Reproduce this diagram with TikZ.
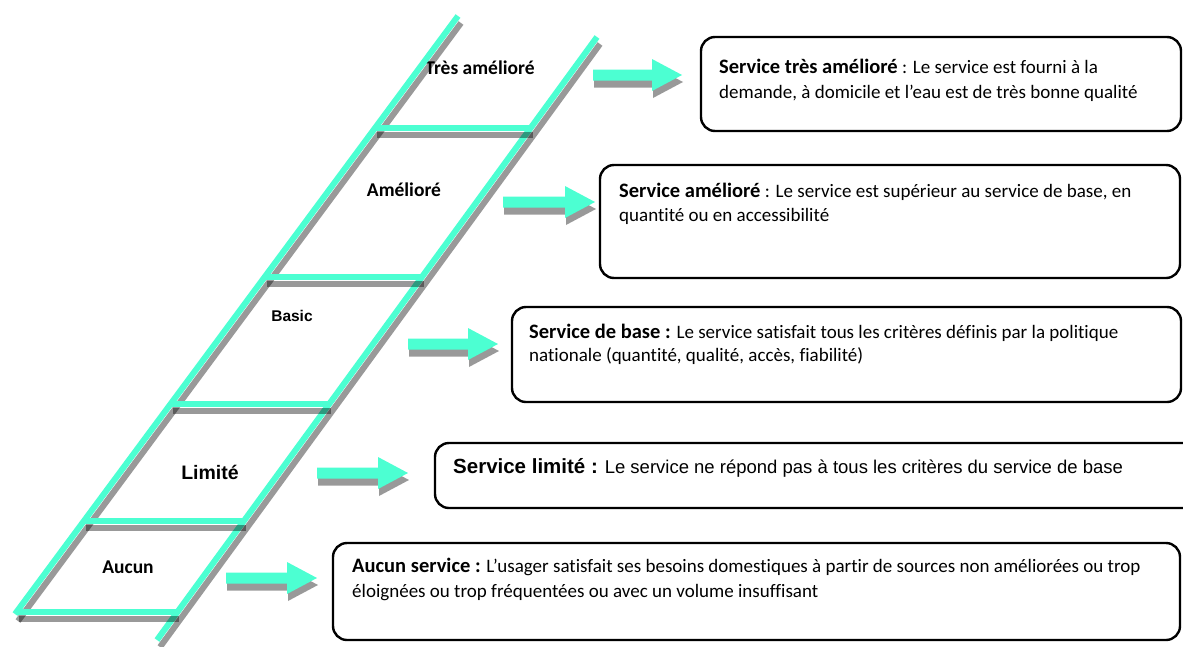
\documentclass[tikz,border=0pt]{standalone}
\usepackage{fontspec}
\setmainfont{Carlito}[Ligatures=NoCommon]
\newfontfamily\arialf{Liberation Sans}
\definecolor{turq}{RGB}{76,255,210}
\tikzset{
  railg/.style={line width=6pt, turq},
  rails/.style={line width=6pt, black, opacity=0.4},
  arrg/.style={fill=turq},
  arrs/.style={fill=black, opacity=0.4},
  svcbox/.style={draw=black, line width=2.4pt, rounded corners=14pt},
  ltxt/.style={anchor=base west, inner sep=0pt, font=\fontsize{19}{22}\selectfont},
  atxt/.style={anchor=base west, inner sep=0pt, font=\arialf\fontsize{18.5}{22}\selectfont},
  rung/.style={inner sep=0pt, font=\bfseries\fontsize{19.5}{22}\selectfont},
}
\newcommand\ttl[1]{{\fontsize{20.5}{22}\selectfont\bfseries #1}}
\newcommand\blkarrow[3]{%
  \fill[arrs, shift={(1,7)}] (#1,#3-5.5) -- (#2-30,#3-5.5) -- (#2-30,#3-16) -- (#2,#3) -- (#2-30,#3+16) -- (#2-30,#3+5.5) -- (#1,#3+5.5) -- cycle;
  \fill[arrg] (#1,#3-5.5) -- (#2-30,#3-5.5) -- (#2-30,#3-16) -- (#2,#3) -- (#2-30,#3+16) -- (#2-30,#3+5.5) -- (#1,#3+5.5) -- cycle;
}
\begin{document}
\begin{tikzpicture}[x=1pt,y=-1pt]
\useasboundingbox[fill=white] (0,0) rectangle (1183,646);
\clip (0,0) rectangle (1183,646);

% ladder labels
\node[rung] (lt1) at (480,68) {Très amélioré};
\node[rung] (lt2) at (404,190) {Amélioré};
\node[rung, font=\arialf\bfseries\fontsize{15.5}{18}\selectfont] (lt3) at (292,316) {Basic};
\node[rung, font=\arialf\bfseries\fontsize{19.5}{22}\selectfont] (lt4) at (210,472) {Limité};
\node[rung] (lt5) at (128,567) {Aucun};

% rails
\coordinate (LT) at (458,16);
\coordinate (LB) at (15,614);
\coordinate (RT) at (597,37);
\coordinate (RB) at (157,640);
\draw[rails] ([shift={(3,7)}]LT) -- ([shift={(3,7)}]LB);
\draw[railg] (LT) -- (LB);
\draw[rails] ([shift={(3,7)}]RT) -- ([shift={(3,7)}]RB);
\draw[railg] (RT) -- (RB);
% rungs
\foreach \y/\xl/\xr in {128/375/530.6, 277/264.7/421.9, 404/170.6/329.2, 521/83.9/243.8, 612/16.5/177.4}{
  \draw[rails, shift={(2,7)}] (\xl,\y) -- (\xr,\y);
  \draw[railg] (\xl,\y) -- (\xr,\y);
}

% arrows
\blkarrow{593}{682}{75}
\blkarrow{503}{595}{202}
\blkarrow{408}{498}{344}
\blkarrow{317}{408}{473}
\blkarrow{226}{317}{578}

% boxes
\draw[svcbox] (701,37) rectangle (1181,131);
\node[ltxt] (b1a) at (719,73) {\ttl{Service très amélioré} : Le service est fourni à la};
\node[ltxt] (b1b) at (719,98) {demande, à domicile et l’eau est de très bonne qualité};

\draw[svcbox] (600,165) rectangle (1180,278);
\node[ltxt] (b2a) at (619,197) {\ttl{Service amélioré} : Le service est supérieur au service de base, en};
\node[ltxt] (b2b) at (619,221) {quantité ou en accessibilité};

\draw[svcbox] (512,307) rectangle (1181,402);
\node[ltxt] (b3a) at (529,338) {\ttl{Service de base :} Le service satisfait tous les critères définis par la politique};
\node[ltxt] (b3b) at (529,361) {nationale (quantité, qualité, accès, fiabilité)};

\draw[svcbox] (435,443) rectangle (1210,508);
\node[atxt] (b4a) at (453,473) {{\fontsize{20.5}{22}\selectfont\bfseries Service limité :} Le service ne répond pas à tous les critères du service de base};

\draw[svcbox] (333,543) rectangle (1180,640);
\node[ltxt] (b5a) at (352,572) {\ttl{Aucun service :} L’usager satisfait ses besoins domestiques à partir de sources non améliorées ou trop};
\node[ltxt] (b5b) at (352,597) {éloignées ou trop fréquentées ou avec un volume insuffisant};
\end{tikzpicture}
\end{document}
